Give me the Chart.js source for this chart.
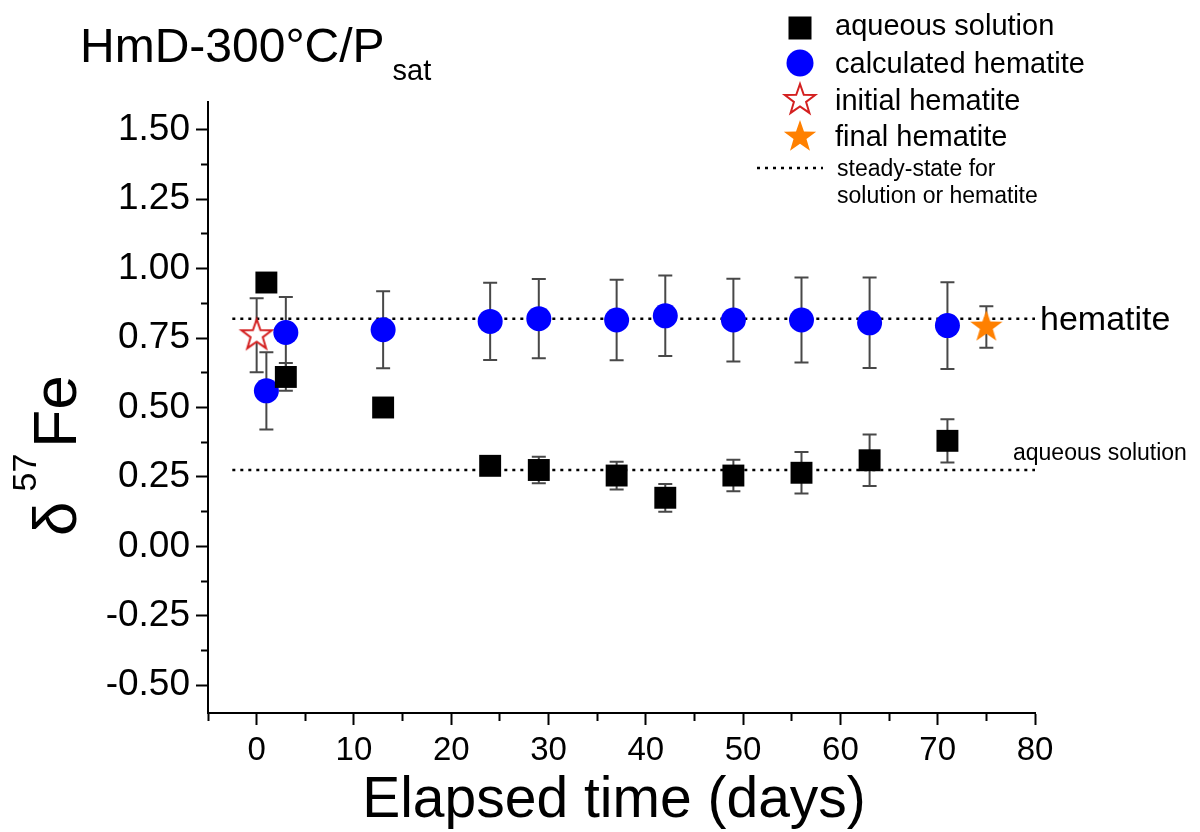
<!DOCTYPE html>
<html>
<head>
<meta charset="utf-8">
<script src="https://cdn.jsdelivr.net/npm/chart.js@4.4.1/dist/chart.umd.min.js"></script>
<style>
  html, body { margin: 0; padding: 0; background: #fff; }
  #wrap { width: 1200px; height: 832px; }
</style>
</head>
<body>
<div id="wrap"><canvas id="chart" width="1200" height="832"></canvas></div>
<script>
(function () {

    // Data
    const days = [1, 3, 13, 24, 29, 37, 42, 49, 56, 63, 71];
    const aqueous = [0.95, 0.61, 0.50, 0.29, 0.275, 0.255, 0.175, 0.255, 0.265, 0.31, 0.38];
    const aqueousErr = [0, 0.05, 0, 0, 0.048, 0.05, 0.05, 0.057, 0.075, 0.093, 0.078];
    const hematite = [0.56, 0.77, 0.78, 0.81, 0.82, 0.815, 0.83, 0.815, 0.815, 0.805, 0.795];
    const hematiteErr = [0.139, 0.128, 0.139, 0.139, 0.143, 0.145, 0.145, 0.149, 0.153, 0.163, 0.156];
    const initialDay = [0];
    const initialHem = [0.76];
    const initialErr = [0.133];
    const finalDay = [75];
    const finalHem = [0.79];
    const finalErr = [0.075];
    const steadyX = [-2.5, 80];
    const steadyHematite = 0.82;
    const steadyAqueous = 0.275;

    const FONT = '"Liberation Sans", Arial, Helvetica, sans-serif';
    const BLUE = '#0000ff';
    const ORANGE = '#ff8000';
    const RED = '#d42020';

    function pts(xs, ys) {
        return xs.map((x, i) => ({ x: x, y: ys[i] }));
    }

    // five point star as a point image
    function makeStar(R, fill, stroke, lw) {
        const c = document.createElement('canvas');
        const s = Math.ceil(2 * R + 2 * lw + 2);
        c.width = s; c.height = s;
        const g = c.getContext('2d');
        const r = R * 0.4;
        g.beginPath();
        for (let i = 0; i < 10; i++) {
            const rad = (i % 2 === 0) ? R : r;
            const a = -Math.PI / 2 + i * Math.PI / 5;
            const px = s / 2 + rad * Math.cos(a);
            const py = s / 2 + rad * Math.sin(a);
            if (i === 0) g.moveTo(px, py); else g.lineTo(px, py);
        }
        g.closePath();
        g.fillStyle = fill;
        g.fill();
        if (stroke) {
            g.strokeStyle = stroke;
            g.lineWidth = lw;
            g.lineJoin = 'miter';
            g.stroke();
        }
        return c;
    }

    const starOpen = makeStar(16, '#ffffff', RED, 2);
    const starFull = makeStar(17, ORANGE, null, 0);

    const errSets = [
        { x: days, y: aqueous, err: aqueousErr },
        { x: days, y: hematite, err: hematiteErr },
        { x: initialDay, y: initialHem, err: initialErr },
        { x: finalDay, y: finalHem, err: finalErr }
    ];

    const errorBars = {
        id: 'errorBars',
        beforeDatasetsDraw(chart) {
            const ctx = chart.ctx, xs = chart.scales.x, ys = chart.scales.y;
            ctx.save();
            ctx.strokeStyle = '#484848';
            ctx.lineWidth = 2;
            errSets.forEach(s => {
                s.x.forEach((xv, i) => {
                    const e = s.err[i];
                    if (!e) return;
                    const px = xs.getPixelForValue(xv);
                    const top = ys.getPixelForValue(s.y[i] + e);
                    const bot = ys.getPixelForValue(s.y[i] - e);
                    ctx.beginPath();
                    ctx.moveTo(px, top); ctx.lineTo(px, bot);
                    ctx.moveTo(px - 7, top); ctx.lineTo(px + 7, top);
                    ctx.moveTo(px - 7, bot); ctx.lineTo(px + 7, bot);
                    ctx.stroke();
                });
            });
            ctx.restore();
        }
    };

    // titles, labels and legend
    const textLayer = {
        id: 'textLayer',
        afterDraw(chart) {
            const ctx = chart.ctx;
            ctx.save();
            ctx.fillStyle = '#000';
            ctx.textBaseline = 'alphabetic';
            ctx.textAlign = 'left';

            // title
            ctx.font = '48px ' + FONT;
            ctx.fillText('HmD-300\u00b0C/P', 80, 62);
            const w = ctx.measureText('HmD-300\u00b0C/P').width;
            ctx.font = '29px ' + FONT;
            ctx.fillText('sat', 80 + w + 8, 80);

            // y title, rotated
            ctx.save();
            ctx.translate(76, 536);
            ctx.rotate(-Math.PI / 2);
            ctx.font = '62px ' + FONT;
            ctx.fillText('\u03b4', 0, 0);
            const dw = ctx.measureText('\u03b4').width;
            ctx.font = '34px ' + FONT;
            ctx.fillText('57', dw + 10, -40);
            const sw = ctx.measureText('57').width;
            ctx.font = '62px ' + FONT;
            ctx.fillText('Fe', dw + 10 + sw + 6, 0);
            ctx.restore();

            // x title
            ctx.textAlign = 'center';
            ctx.font = '57px ' + FONT;
            ctx.fillText('Elapsed time (days)', 614, 817);

            // line labels
            ctx.textAlign = 'left';
            ctx.font = '34px ' + FONT;
            ctx.fillText('hematite', 1040, 330);
            ctx.font = '23px ' + FONT;
            ctx.fillText('aqueous solution', 1013, 460);

            // legend
            const lx = 800;
            ctx.fillStyle = '#000';
            ctx.fillRect(lx - 11.5, 28 - 11.5, 23, 23);
            ctx.fillStyle = BLUE;
            ctx.beginPath();
            ctx.arc(lx, 63, 13.5, 0, Math.PI * 2);
            ctx.fill();
            ctx.drawImage(starOpen, lx - starOpen.width / 2, 100 - starOpen.height / 2);
            ctx.drawImage(starFull, lx - starFull.width / 2, 137 - starFull.height / 2);
            ctx.strokeStyle = '#000';
            ctx.lineWidth = 2.5;
            ctx.setLineDash([3, 5]);
            ctx.beginPath();
            ctx.moveTo(757, 168);
            ctx.lineTo(823, 168);
            ctx.stroke();
            ctx.setLineDash([]);

            ctx.fillStyle = '#000';
            ctx.font = '29px ' + FONT;
            ctx.fillText('aqueous solution', 835, 35);
            ctx.fillText('calculated hematite', 835, 73);
            ctx.fillText('initial hematite', 835, 110);
            ctx.fillText('final hematite', 835, 146);
            ctx.font = '23px ' + FONT;
            ctx.fillText('steady-state for', 837, 176);
            ctx.fillText('solution or hematite', 837, 203);
            ctx.restore();
        }
    };

    function isMajorY(v) {
        return Math.abs(v * 4 - Math.round(v * 4)) < 1e-6;
    }

    new Chart(document.getElementById('chart').getContext('2d'), {
        type: 'scatter',
        data: {
            datasets: [
                {
                    label: 'aqueous solution',
                    data: pts(days, aqueous),
                    pointStyle: 'rect',
                    pointRadius: 15.5,
                    pointHoverRadius: 15.5,
                    backgroundColor: '#000',
                    borderWidth: 0
                },
                {
                    label: 'calculated hematite',
                    data: pts(days, hematite),
                    pointStyle: 'circle',
                    pointRadius: 12.5,
                    pointHoverRadius: 12.5,
                    backgroundColor: BLUE,
                    borderWidth: 0
                },
                {
                    label: 'initial hematite',
                    data: pts(initialDay, initialHem),
                    pointStyle: starOpen,
                    pointRadius: 16
                },
                {
                    label: 'final hematite',
                    data: pts(finalDay, finalHem),
                    pointStyle: starFull,
                    pointRadius: 17
                },
                {
                    label: 'steady-state hematite',
                    data: steadyX.map(x => ({ x: x, y: steadyHematite })),
                    showLine: true,
                    borderColor: '#000',
                    borderWidth: 2.5,
                    borderDash: [3, 5],
                    pointRadius: 0
                },
                {
                    label: 'steady-state solution',
                    data: steadyX.map(x => ({ x: x, y: steadyAqueous })),
                    showLine: true,
                    borderColor: '#000',
                    borderWidth: 2.5,
                    borderDash: [3, 5],
                    pointRadius: 0
                }
            ]
        },
        options: {
            responsive: false,
            animation: false,
            devicePixelRatio: 1,
            layout: { padding: { top: 102, right: 165, left: 0, bottom: 0 } },
            plugins: {
                legend: { display: false },
                tooltip: { enabled: false }
            },
            scales: {
                x: {
                    type: 'linear',
                    min: -5,
                    max: 80,
                    afterFit: s => { s.height = 119; },
                    border: { display: true, color: '#000', width: 2 },
                    grid: {
                        drawOnChartArea: false,
                        drawTicks: true,
                        tickLength: 12,
                        tickWidth: 2,
                        tickColor: '#000',
                        tickBorderDash: c => (c.tick && c.tick.value % 10 !== 0) ? [7, 100] : []
                    },
                    ticks: {
                        stepSize: 5,
                        autoSkip: false,
                        maxRotation: 0,
                        includeBounds: false,
                        padding: 6,
                        color: '#000',
                        font: { family: FONT, size: 33 },
                        callback: v => (v % 10 === 0 ? String(v) : '')
                    }
                },
                y: {
                    type: 'linear',
                    min: -0.6,
                    max: 1.6,
                    afterFit: s => { s.width = 208; },
                    border: { display: true, color: '#000', width: 2 },
                    grid: {
                        drawOnChartArea: false,
                        drawTicks: true,
                        tickLength: 12,
                        tickWidth: 2,
                        tickColor: '#000',
                        tickBorderDash: c => (c.tick && !isMajorY(c.tick.value)) ? [0, 5, 7, 100] : []
                    },
                    ticks: {
                        stepSize: 0.125,
                        autoSkip: false,
                        includeBounds: false,
                        padding: 6,
                        color: '#000',
                        font: { family: FONT, size: 37 },
                        callback: v => (isMajorY(v) ? v.toFixed(2) : '')
                    }
                }
            }
        },
        plugins: [errorBars, textLayer]
    });
})();
</script>
</body>
</html>
